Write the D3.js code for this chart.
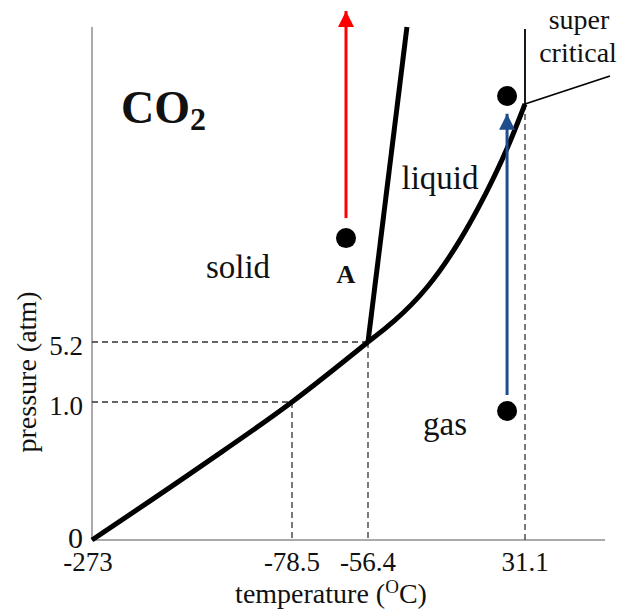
<!DOCTYPE html>
<html lang="en">
<head>
    <meta charset="UTF-8">
    <title>CO2 phase diagram</title>
    <style>
        * { margin: 0; padding: 0 }
        body { background: #fff; }
        text { font-family: "Liberation Serif", "Times New Roman", serif; fill: #111; }
    </style>
</head>
<body>
    <div id="main"></div>
    <script src="https://d3js.org/d3.v7.min.js"></script>
    <script>
        // tick positions (schematic, not to scale)
        const tempTicks = [-273, -78.5, -56.4, 31.1];
        const tempTickLabels = ['-273', '-78.5', '-56.4', '31.1'];
        const presTicks = [0, 1.0, 5.2];
        const presTickLabels = ['0', '1.0', '5.2'];

        // phase boundaries [temperature, pressure]
        const sublimation = [[-273, 0], [-168, 0.53], [-78.5, 1.0], [-56.4, 5.2]];
        const vaporization = [[-56.4, 5.2], [-42.5, 10.6], [-23.5, 20.0], [-5.1, 33.7], [9.9, 47.9], [21.1, 59.9], [31.1, 73]];
        const melting = [[-56.4, 5.2], [-34.7, 96.1]];
        const superVertical = [[31.1, 73], [31.1, 95.5]];
        const superSlope = [[31.1, 73], [78.8, 81.4]];

        // points and arrows
        const dots = [[-62.8, 34.8], [21.1, 75.4], [21.1, 0.935]];
        const redArrow = [[-62.8, 40.5], [-62.8, 100.9]];
        const blueArrow = [[21.1, 1.49], [21.1, 70.2]];

        const width = 621, height = 609;

        const x = d3.scaleLinear()
            .domain([-273, -78.5, -56.4, 31.1, 76])
            .range([92, 292, 368, 525, 605]);
        const y = d3.scaleLinear()
            .domain([0, 1.0, 5.2, 73, 100])
            .range([540, 402, 342, 104, 14]);

        const svg = d3.select('#main').append('svg')
            .attr('width', width)
            .attr('height', height);

        svg.append('defs').selectAll('marker')
            .data([['red-head', '#f00'], ['blue-head', '#1f4c8c']])
            .enter().append('marker')
            .attr('id', d => d[0])
            .attr('viewBox', '0 0 10 10')
            .attr('refX', 10).attr('refY', 5)
            .attr('markerUnits', 'userSpaceOnUse')
            .attr('markerWidth', 16).attr('markerHeight', 16)
            .attr('orient', 'auto')
            .append('path')
            .attr('d', 'M0,0 L10,5 L0,10 Z')
            .attr('fill', d => d[1]);

        // axes
        svg.append('line')
            .attr('x1', x(-273)).attr('x2', x(-273))
            .attr('y1', 27).attr('y2', y(0))
            .attr('stroke', '#aaa').attr('stroke-width', 2);
        svg.append('line')
            .attr('x1', x(-273)).attr('x2', x(76))
            .attr('y1', y(0)).attr('y2', y(0))
            .attr('stroke', '#aaa').attr('stroke-width', 2);

        // dashed guides
        const guides = [
            [[-273, 5.2], [-56.4, 5.2]],
            [[-273, 1.0], [-78.5, 1.0]],
            [[-78.5, 1.0], [-78.5, 0]],
            [[-56.4, 5.2], [-56.4, 0]],
            [[31.1, 73], [31.1, 0]]
        ];
        svg.selectAll('line.guide')
            .data(guides)
            .enter().append('line')
            .classed('guide', true)
            .attr('x1', d => x(d[0][0])).attr('y1', d => y(d[0][1]))
            .attr('x2', d => x(d[1][0])).attr('y2', d => y(d[1][1]))
            .attr('stroke', '#333')
            .attr('stroke-width', 1.3)
            .attr('stroke-dasharray', '6,4');

        const line = d3.line()
            .x(d => x(d[0]))
            .y(d => y(d[1]));

        svg.append('path')
            .attr('d', line.curve(d3.curveMonotoneX)(sublimation))
            .attr('fill', 'none').attr('stroke', '#000').attr('stroke-width', 5);
        svg.append('path')
            .attr('d', line.curve(d3.curveBasis)(vaporization))
            .attr('fill', 'none').attr('stroke', '#000').attr('stroke-width', 5);
        svg.append('path')
            .attr('d', line.curve(d3.curveLinear)(melting))
            .attr('fill', 'none').attr('stroke', '#000').attr('stroke-width', 5);
        svg.append('path')
            .attr('d', line(superVertical))
            .attr('fill', 'none').attr('stroke', '#000').attr('stroke-width', 1.8);
        svg.append('path')
            .attr('d', line(superSlope))
            .attr('fill', 'none').attr('stroke', '#000').attr('stroke-width', 1.8);

        // arrows
        svg.append('path')
            .attr('d', line(redArrow))
            .attr('stroke', '#f00').attr('stroke-width', 3)
            .attr('marker-end', 'url(#red-head)');
        svg.append('path')
            .attr('d', line(blueArrow))
            .attr('stroke', '#1f4c8c').attr('stroke-width', 3)
            .attr('marker-end', 'url(#blue-head)');

        svg.selectAll('circle.dot')
            .data(dots)
            .enter().append('circle')
            .classed('dot', true)
            .attr('cx', d => x(d[0])).attr('cy', d => y(d[1]))
            .attr('r', 10)
            .attr('fill', '#000');

        // tick labels
        svg.selectAll('text.xtick')
            .data(tempTicks)
            .enter().append('text')
            .classed('xtick', true)
            .attr('x', (d, i) => x(d) + (i == 0 ? -4 : 0))
            .attr('y', 571)
            .attr('text-anchor', 'middle')
            .style('font-size', '27px')
            .text((d, i) => tempTickLabels[i]);
        svg.selectAll('text.ytick')
            .data(presTicks)
            .enter().append('text')
            .classed('ytick', true)
            .attr('x', 83)
            .attr('y', (d, i) => y(d) + (i == 0 ? 8 : 13))
            .attr('text-anchor', 'end')
            .style('font-size', (d, i) => i == 0 ? '30px' : '27px')
            .text((d, i) => presTickLabels[i]);

        // axis titles
        const xt = svg.append('text')
            .attr('x', 331).attr('y', 603)
            .attr('text-anchor', 'middle')
            .style('font-size', '28px');
        xt.append('tspan').text('temperature (');
        xt.append('tspan').attr('dy', -10).style('font-size', '19px').text('O');
        xt.append('tspan').attr('dy', 10).text('C)');

        svg.append('text')
            .attr('transform', 'translate(36,372) rotate(-90)')
            .attr('text-anchor', 'middle')
            .style('font-size', '28px')
            .text('pressure (atm)');

        // region labels
        const co2 = svg.append('text')
            .attr('x', 121).attr('y', 123)
            .style('font-size', '46px').style('font-weight', 'bold');
        co2.append('tspan').text('CO');
        co2.append('tspan').attr('dy', 7).style('font-size', '32px').text('2');

        const labels = [
            ['solid', 238, 278, '33px', 'normal'],
            ['liquid', 440, 189, '33px', 'normal'],
            ['gas', 445, 435, '33px', 'normal'],
            ['A', 346, 283, '26px', 'bold'],
            ['super', 579, 29, '28px', 'normal'],
            ['critical', 578, 62, '28px', 'normal']
        ];
        svg.selectAll('text.label')
            .data(labels)
            .enter().append('text')
            .classed('label', true)
            .attr('x', d => d[1]).attr('y', d => d[2])
            .attr('text-anchor', 'middle')
            .style('font-size', d => d[3])
            .style('font-weight', d => d[4])
            .text(d => d[0]);
    </script>
</body>
</html>
